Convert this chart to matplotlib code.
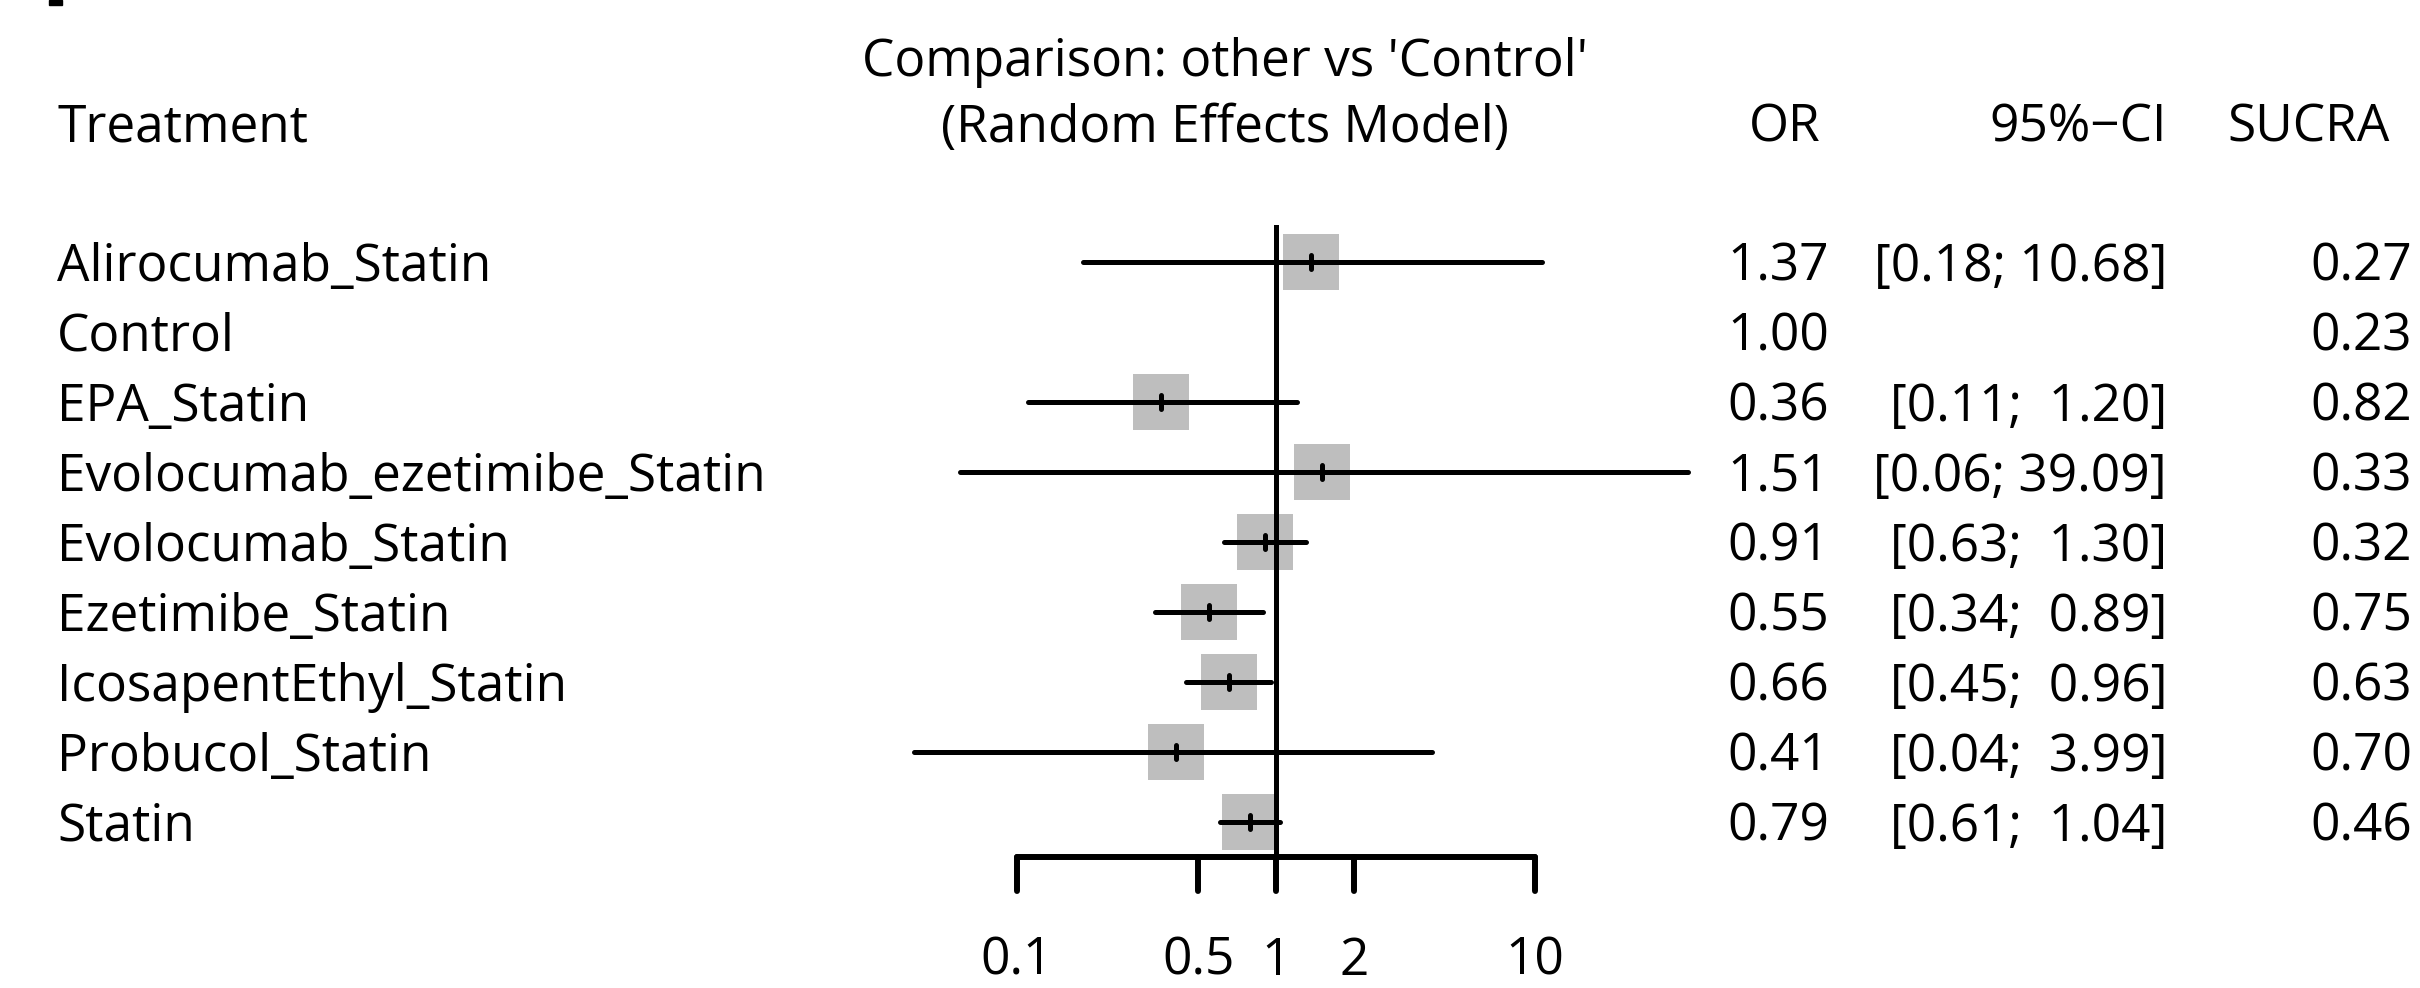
import numpy as np
import matplotlib
matplotlib.use("Agg")
import matplotlib.pyplot as plt
from matplotlib.patches import Rectangle
from matplotlib.transforms import blended_transform_factory

# -------- DONNÉES --------
treatments = ["Alirocumab_Statin", "Control", "EPA_Statin",
              "Evolocumab_ezetimibe_Statin", "Evolocumab_Statin",
              "Ezetimibe_Statin", "IcosapentEthyl_Statin",
              "Probucol_Statin", "Statin"]
or_est = [1.37, 1.00, 0.36, 1.51, 0.91, 0.55, 0.66, 0.41, 0.79]
ci_low = [0.18, np.nan, 0.11, 0.06, 0.63, 0.34, 0.45, 0.04, 0.61]
ci_high = [10.68, np.nan, 1.20, 39.09, 1.30, 0.89, 0.96, 3.99, 1.04]
sucra = [0.27, 0.23, 0.82, 0.33, 0.32, 0.75, 0.63, 0.70, 0.46]
tick_vals = [0.1, 0.5, 1, 2, 10]
tick_labels = ["0.1", "0.5", "1", "2", "10"]

W, H = 2420, 988
FS = 37
BL = 0.27  # décalage de la ligne de base (en lignes)

plt.rcParams["font.family"] = ["Open Sans", "DejaVu Sans"]

fig = plt.figure(figsize=(W / 100, H / 100), dpi=100)
ax = fig.add_axes([0, 0, 1, 1])
ax.set_xscale("log")
ax.set_xlim(10 ** -4.927, 10 ** 4.417)
ax.set_ylim(10.371, -3.743)
ax.axis("off")

tr = blended_transform_factory(ax.transAxes, ax.transData)
rows = np.arange(len(treatments))

# carrés gris + IC + estimation
for i in rows:
    if np.isnan(ci_low[i]):
        continue
    ax.plot(or_est[i], i, marker="s", markersize=40.3, color="#BEBEBE",
            markeredgewidth=0, zorder=1)
    ax.plot([ci_low[i], ci_high[i]], [i, i], color="black", lw=3.6,
            solid_capstyle="round", zorder=2)
    ax.plot([or_est[i], or_est[i]], [i - 0.095, i + 0.095], color="black",
            lw=3.6, solid_capstyle="round", zorder=3)

# ligne de référence
ax.plot([1, 1], [-0.5, 8.5], color="black", lw=3.6, zorder=2)

# axe x
ax.plot([tick_vals[0], tick_vals[-1]], [8.5, 8.5], color="black",
        lw=4.3, solid_capstyle="round", zorder=2)
for v, lab in zip(tick_vals, tick_labels):
    ax.plot([v, v], [8.5, 8.98], color="black", lw=4.3,
            solid_capstyle="round", zorder=2)
    ax.text(v, 10.18, lab, ha="center", va="baseline", fontsize=FS)

# en-têtes
ax.text(0.506, -2.93 + BL, "Comparison: other vs 'Control'", transform=tr,
        ha="center", va="baseline", fontsize=FS)
ax.text(0.506, -1.986 + BL, "(Random Effects Model)", transform=tr,
        ha="center", va="baseline", fontsize=FS)
ax.text(57 / W, -1.986 + BL, "Treatment", transform=tr, ha="left",
        va="baseline", fontsize=FS)
ax.text(1821 / W, -1.986 + BL, "OR", transform=tr, ha="right",
        va="baseline", fontsize=FS)
ax.text(2167 / W, -1.986 + BL, "95%\u2212CI", transform=tr, ha="right",
        va="baseline", fontsize=FS)
ax.text(2390 / W, -1.986 + BL, "SUCRA", transform=tr, ha="right",
        va="baseline", fontsize=FS)

# colonnes
for i in rows:
    ax.text(57 / W, i + BL, treatments[i], transform=tr, ha="left",
            va="baseline", fontsize=FS)
    ax.text(1829 / W, i + BL, f"{or_est[i]:.2f}", transform=tr, ha="right",
            va="baseline", fontsize=FS)
    if not np.isnan(ci_low[i]):
        ci_txt = f"[{ci_low[i]:.2f}; {ci_high[i]:5.2f}]"
        ax.text(2167 / W, i + BL, ci_txt, transform=tr, ha="right",
                va="baseline", fontsize=FS)
    ax.text(2412 / W, i + BL, f"{sucra[i]:.2f}", transform=tr, ha="right",
            va="baseline", fontsize=FS)

# petit fragment noir en haut à gauche
fig.patches.append(Rectangle((49 / W, 1 - 5 / H), 13 / W, 5 / H,
                             transform=fig.transFigure, color="black"))

fig.savefig("out.png", dpi=100)
